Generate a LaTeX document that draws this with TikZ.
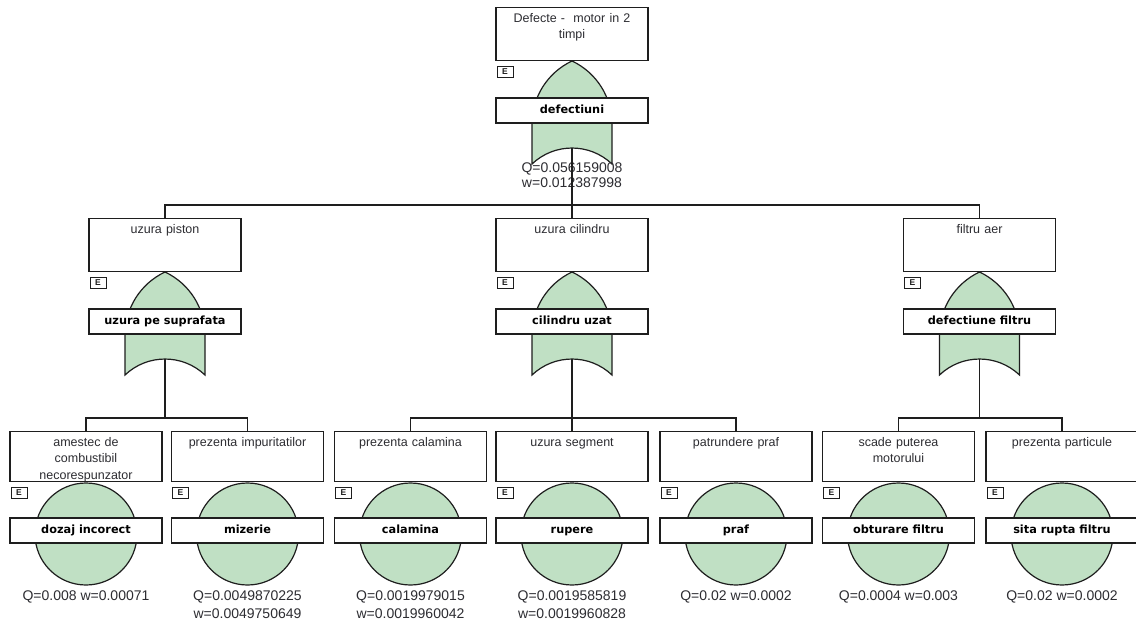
\documentclass[tikz,border=0pt]{standalone}
\usepackage{fontspec}
\setmainfont{Liberation Sans}
\newfontfamily\lblfont{DejaVu Sans}
\definecolor{gatec}{RGB}{192,224,196}
\definecolor{linec}{RGB}{30,30,30}
\definecolor{textc}{RGB}{45,45,50}
\tikzset{
  gatefill/.style={draw=linec, line width=1.2pt, fill=gatec},
  descbox/.style={draw=linec, line width=1.3pt, fill=white, minimum width=152pt, inner sep=0pt},
  desctext/.style={anchor=north, inner sep=0pt, text width=148pt, align=center, text=textc, font=\fontsize{12.5}{16.5}\selectfont},
  ebox/.style={draw=linec, line width=1pt, minimum width=16pt, minimum height=11pt, inner sep=0pt, text=linec, font=\bfseries\fontsize{8.5}{8.5}\selectfont},
  labelbox/.style={draw=linec, line width=1.3pt, fill=white, minimum width=152pt, minimum height=25pt, inner sep=0pt, text height=8.5pt, text depth=2pt, text=black, font={\lblfont\bfseries\fontsize{11.3}{13}\selectfont}},
  qtext/.style={anchor=north, inner sep=0pt, align=center, text=textc},
  conn/.style={draw=linec, line width=1.2pt},
}
\newcommand\eventgate[5]{%
  \begin{scope}[shift={(#2,#3)}]
    \path[gatefill] (0,0) .. controls (24.4,11.5) and (40,36) .. (40,63) -- (40,103) .. controls (17.6,81.7) and (-17.6,81.7) .. (-40,103) -- (-40,63) .. controls (-40,36) and (-24.4,11.5) .. (0,0) -- cycle;
    \node[descbox, minimum height=53pt, anchor=south] (#1d) at (0,0) {};
    \node[desctext] (#1t) at (0,-50) {\rule{0pt}{11pt}#4};
    \node[ebox] (#1e) at (-67,10.5) {E};
    \node[labelbox] (#1l) at (0,49.5) {#5};
    \coordinate (#1o) at (0,87);
  \end{scope}}
\newcommand\leafev[5]{%
  \begin{scope}[shift={(#2,482)}]
    \path[gatefill] (0,52) circle[radius=51pt];
    \node[descbox, minimum height=50pt, anchor=south] (#1d) at (0,0) {};
    \node[desctext] (#1t) at (0,-47) {\rule{0pt}{11pt}#3};
    \node[ebox] (#1e) at (-67,10.5) {E};
    \node[labelbox] (#1l) at (0,48.5) {#4};
    \node[qtext, font=\fontsize{14}{18}\selectfont] (#1q) at (0,108) {\rule{0pt}{10pt}#5};
  \end{scope}}
\begin{document}
\begin{tikzpicture}[x=1pt,y=-1pt]
\useasboundingbox (0,0) rectangle (1136,619);
\fill[white] (0,0) rectangle (1136,619);
\clip (0,0) rectangle (1136,619);
% top
\eventgate{g0}{572}{61}{Defecte -~ motor in 2\\timpi}{defectiuni}
\node[qtext, font=\fontsize{14}{15}\selectfont] (g0q) at (572,162) {\rule{0pt}{10pt}Q=0.056159008\\w=0.012387998};
% level 2
\eventgate{g1}{165}{272}{uzura piston}{uzura pe suprafata}
\eventgate{g2}{572}{272}{uzura cilindru}{cilindru uzat}
\eventgate{g3}{979.5}{272}{filtru aer}{defectiune filtru}
% leaves
\leafev{l1}{86}{amestec de\\combustibil\\necorespunzator}{dozaj incorect}{Q=0.008 w=0.00071}
\leafev{l2}{247.5}{prezenta impuritatilor}{mizerie}{Q=0.0049870225\\w=0.0049750649}
\leafev{l3}{410.5}{prezenta calamina}{calamina}{Q=0.0019979015\\w=0.0019960042}
\leafev{l4}{572}{uzura segment}{rupere}{Q=0.0019585819\\w=0.0019960828}
\leafev{l5}{736}{patrundere praf}{praf}{Q=0.02 w=0.0002}
\leafev{l6}{898.5}{scade puterea\\motorului}{obturare filtru}{Q=0.0004 w=0.003}
\leafev{l7}{1062}{prezenta particule}{sita rupta filtru}{Q=0.02 w=0.0002}
% connectors
\coordinate (b0) at (572,205);
\draw[conn] (g0o) -- (b0);
\draw[conn] (b0) -| (g1d.north);
\draw[conn] (b0) -| (g3d.north);
\draw[conn] (b0) -- (g2d.north);
\coordinate (b1) at (165,418);
\draw[conn] (g1o) -- (b1);
\draw[conn] (b1) -| (l1d.north);
\draw[conn] (b1) -| (l2d.north);
\coordinate (b2) at (572,418);
\draw[conn] (g2o) -- (b2);
\draw[conn] (b2) -| (l3d.north);
\draw[conn] (b2) -| (l5d.north);
\draw[conn] (b2) -- (l4d.north);
\coordinate (b3) at (979.5,418);
\draw[conn] (g3o) -- (b3);
\draw[conn] (b3) -| (l6d.north);
\draw[conn] (b3) -| (l7d.north);
\end{tikzpicture}
\end{document}
